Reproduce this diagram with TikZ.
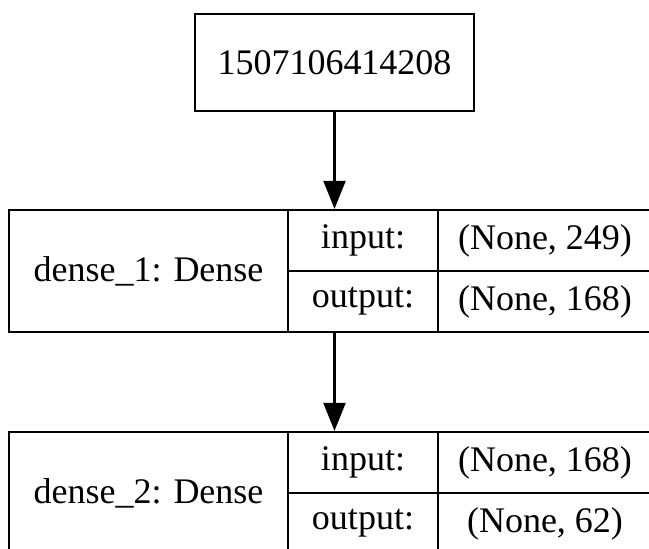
\documentclass[tikz,border=0pt]{standalone}
\usepackage{fontspec}
\setmainfont{Liberation Serif}
\usepackage{tikz}
\usetikzlibrary{positioning,calc,arrows.meta}

\tikzset{
    cell/.style={draw, line width=2.3pt, inner sep=0pt, font=\fontsize{36}{40}\selectfont},
    arr/.style={line width=2.3pt, -{Triangle[width=22pt,length=28pt]}}
}

\begin{document}
\begin{tikzpicture}[x=1pt, y=-1pt]
    \useasboundingbox (0,0) rectangle (649,549);
    \clip (0,0) rectangle (649,549);
    % Input node
    \node [cell, minimum width=279pt, minimum height=97pt] (inp) at (334.5, 62.5) {1507106414208};
    % dense_1 layer
    \node [cell, minimum width=279pt, minimum height=122pt] (name1) at (148.5, 271) {dense\_1: Dense};
    \node [cell, minimum width=150pt, minimum height=61pt] (inkey1) at (363, 240.5) {input:};
    \node [cell, minimum width=150pt, minimum height=61pt] (outkey1) at (363, 301.5) {output:};
    \node [cell, minimum width=214pt, minimum height=61pt] (inval1) at (545, 240.5) {(None, 249)};
    \node [cell, minimum width=214pt, minimum height=61pt] (outval1) at (545, 301.5) {(None, 168)};
    % dense_2 layer
    \node [cell, minimum width=279pt, minimum height=122pt] (name2) at (148.5, 493) {dense\_2: Dense};
    \node [cell, minimum width=150pt, minimum height=61pt] (inkey2) at (363, 462.5) {input:};
    \node [cell, minimum width=150pt, minimum height=61pt] (outkey2) at (363, 523.5) {output:};
    \node [cell, minimum width=214pt, minimum height=61pt] (inval2) at (545, 462.5) {(None, 168)};
    \node [cell, minimum width=214pt, minimum height=61pt] (outval2) at (545, 523.5) {(None, 62)};
    % Connections
    \draw [arr] (inp.south) -- (inp.south |- inkey1.north);
    \draw [arr] (outkey1.south -| inp.south) -- (inp.south |- inkey2.north);
\end{tikzpicture}
\end{document}
